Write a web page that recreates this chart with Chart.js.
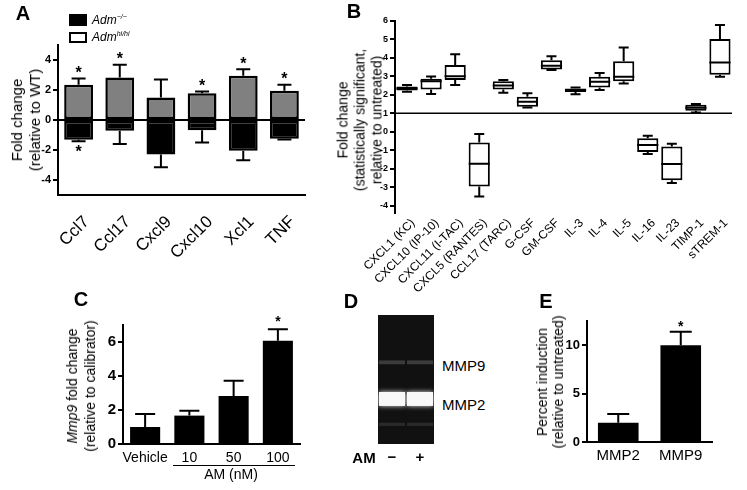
<!DOCTYPE html>
<html>
<head>
<meta charset="utf-8">
<script src="https://cdn.jsdelivr.net/npm/chart.js@4/dist/chart.umd.min.js"></script>
<style>
  body { margin: 0; background: #fff; width: 747px; height: 490px; position: relative; overflow: hidden;
         font-family: "Liberation Sans", Arial, sans-serif; color: #000; }
  canvas { position: absolute; }
  .t { position: absolute; white-space: nowrap; transform: translate(-50%, -50%); }
  .l { position: absolute; white-space: nowrap; transform: translateY(-50%); }
  .rot { position: absolute; white-space: nowrap; text-align: center; transform: translate(-50%, -50%) rotate(-90deg); }
  .panel { font-weight: bold; font-size: 20px; }
  sup { font-size: 7px; vertical-align: 5px; }
</style>
</head>
<body>
<canvas id="chartA" width="320" height="270" style="left:0;top:0"></canvas>
<canvas id="chartB" width="417" height="300" style="left:330px;top:0"></canvas>
<canvas id="chartC" width="310" height="200" style="left:0;top:290px"></canvas>
<canvas id="chartD" width="56" height="150" style="left:378px;top:315px"></canvas>
<canvas id="chartE" width="230" height="190" style="left:500px;top:300px"></canvas>

<!-- panel letters -->
<div class="t panel" style="left:23px;top:13px">A</div>
<div class="t panel" style="left:354px;top:11px">B</div>
<div class="t panel" style="left:81px;top:299px">C</div>
<div class="t panel" style="left:351px;top:301px">D</div>
<div class="t panel" style="left:546px;top:301px">E</div>

<!-- A legend -->
<div style="position:absolute;left:69px;top:14px;width:18px;height:12px;background:#000"></div>
<div style="position:absolute;left:69px;top:32px;width:14px;height:7px;border:2px solid #000;background:#fff"></div>
<div class="l" style="left:92px;top:20px;font-size:12px;font-style:italic">Adm<sup>−/−</sup></div>
<div class="l" style="left:92px;top:37px;font-size:12px;font-style:italic">Adm<sup>hi/hi</sup></div>

<!-- axis titles -->
<div class="rot" style="left:26px;top:120px;font-size:15px;line-height:18px">Fold change<br>(relative to WT)</div>
<div class="rot" style="left:360px;top:120px;font-size:14px;line-height:17px">Fold change<br>(statistically significant,<br>relative to untreated)</div>
<div class="rot" style="left:81px;top:386px;font-size:14px;line-height:18px"><i>Mmp9</i> fold change<br>(relative to calibrator)</div>
<div class="rot" style="left:550px;top:382px;font-size:14px;line-height:16px">Percent induction<br>(relative to untreated)</div>

<!-- C dose bracket -->
<div style="position:absolute;left:173px;top:465px;width:122px;height:1px;background:#000"></div>
<div class="t" style="left:231px;top:474px;font-size:14px">AM (nM)</div>

<!-- D labels -->
<div class="l" style="left:442px;top:365px;font-size:15px">MMP9</div>
<div class="l" style="left:442px;top:404px;font-size:15px">MMP2</div>
<div class="t" style="left:364px;top:457px;font-size:15px;font-weight:bold">AM</div>

<script>
// ---- A: fold change relative to WT
const genes = ["Ccl7", "Ccl17", "Cxcl9", "Cxcl10", "Xcl1", "TNF"];
const admHi = [2.35, 2.83, 1.5, 1.78, 2.95, 1.95];
const admHiErr = [2.76, 3.68, 2.7, 1.9, 3.38, 2.35];
const admHiStar = [1, 1, 0, 1, 1, 1];
const admKo = [-1.32, -0.72, -2.3, -0.68, -2.05, -1.25];
const admKoErr = [-1.42, -1.6, -3.15, -1.5, -2.68, -1.3];
const admKoStar = [1, 0, 0, 0, 0, 0];
const ticksA = [-4, -2, 0, 2, 4];

// ---- B: cytokine box plots
const cytokines = ["CXCL1 (KC)", "CXCL10 (IP-10)", "CXCL11 (I-TAC)", "CXCL5 (RANTES)", "CCL17 (TARC)",
  "G-CSF", "GM-CSF", "IL-3", "IL-4", "IL-5", "IL-16", "IL-23", "TIMP-1", "sTREM-1"];
const boxMin = [2.17, 2.04, 2.53, -3.5, 2.12, 1.32, 3.34, 2.03, 2.26, 2.62, -1.21, -2.78, 1.04, 2.98];
const boxQ1 = [2.24, 2.29, 2.8, -2.96, 2.29, 1.36, 3.37, 2.15, 2.4, 2.74, -1.1, -2.63, 1.14, 3.09];
const boxMed = [2.35, 2.73, 3.01, -1.73, 2.51, 1.63, 3.57, 2.26, 2.71, 2.98, -0.71, -1.75, 1.3, 3.75];
const boxQ3 = [2.45, 2.87, 3.61, -0.58, 2.74, 1.9, 3.88, 2.35, 2.98, 3.82, -0.35, -0.8, 1.47, 5.03];
const boxMax = [2.53, 3.0, 4.2, -0.12, 2.8, 2.08, 4.09, 2.4, 3.19, 4.56, -0.22, -0.65, 1.5, 5.78];
const ticksB = [-4, -3, -2, -1, 0, 1, 2, 3, 4, 5, 6];

// ---- C: Mmp9 fold change
const doses = ["Vehicle", "10", "50", "100"];
const mmp9Fold = [1.0, 1.67, 2.82, 6.08];
const mmp9Err = [1.76, 1.96, 3.72, 6.75];
const mmp9Star = [0, 0, 0, 1];
const ticksC = [0, 1, 2, 3, 4, 5, 6, 7];

// ---- D: zymography lanes (band position, 0 = bottom of gel, 100 = top)
const gelLanes = ["−", "+"];
const mmp2Band = [[29.5, 40.3], [29.5, 40.3]];
const mmp9Band = [[61.8, 64.8], [61.8, 64.8]];
const faintBand = [[14, 16.5], [14, 16.5]];

// ---- E: percent induction
const enzymes = ["MMP2", "MMP9"];
const induction = [2.0, 10.0];
const inductionErr = [2.9, 11.4];
const inductionStar = [0, 1];
const ticksE = [0, 5, 10];

Chart.defaults.font.family = "'Liberation Sans', Arial, sans-serif";
Chart.defaults.color = "#000";
Chart.defaults.animation = false;
Chart.defaults.plugins.legend.display = false;
Chart.defaults.plugins.tooltip.enabled = false;

// error bars + significance stars, drawn from dataset.err / dataset.star
const errorBars = {
  id: "errorBars",
  afterDatasetsDraw(chart, args, opts) {
    const ctx = chart.ctx;
    const ys = chart.scales.y;
    chart.data.datasets.forEach((ds, i) => {
      if (!ds.err) return;
      chart.getDatasetMeta(i).data.forEach((bar, j) => {
        const y0 = ys.getPixelForValue(ds.data[j]);
        const y1 = ys.getPixelForValue(ds.err[j]);
        const up = ds.err[j] >= 0;
        ctx.save();
        ctx.strokeStyle = "#000";
        ctx.lineWidth = opts.width;
        ctx.beginPath();
        ctx.moveTo(bar.x, y0);
        ctx.lineTo(bar.x, y1);
        ctx.moveTo(bar.x - opts.cap / 2, y1);
        ctx.lineTo(bar.x + opts.cap / 2, y1);
        ctx.stroke();
        if (ds.star && ds.star[j]) {
          ctx.fillStyle = "#000";
          ctx.font = "bold " + opts.starSize + "px 'Liberation Sans', Arial";
          ctx.textAlign = "center";
          ctx.textBaseline = "middle";
          const sy = up ? y1 - opts.starGap : y1 + opts.starGap;
          ctx.fillText("*", bar.x, sy + opts.starSize * 0.2);
        }
        ctx.restore();
      });
    });
  },
};

// whiskers + median line for the floating-bar box plots
const boxWhiskers = {
  id: "boxWhiskers",
  afterDatasetsDraw(chart) {
    const ctx = chart.ctx;
    const ys = chart.scales.y;
    chart.getDatasetMeta(0).data.forEach((bar, j) => {
      const half = bar.width / 2;
      const px = (v) => ys.getPixelForValue(v);
      ctx.save();
      ctx.strokeStyle = "#000";
      ctx.lineWidth = 2;
      ctx.beginPath();
      ctx.moveTo(bar.x - half, px(boxMed[j]));
      ctx.lineTo(bar.x + half, px(boxMed[j]));
      ctx.moveTo(bar.x, px(boxQ3[j]));
      ctx.lineTo(bar.x, px(boxMax[j]));
      ctx.moveTo(bar.x - 5, px(boxMax[j]));
      ctx.lineTo(bar.x + 5, px(boxMax[j]));
      ctx.moveTo(bar.x, px(boxQ1[j]));
      ctx.lineTo(bar.x, px(boxMin[j]));
      ctx.moveTo(bar.x - 5, px(boxMin[j]));
      ctx.lineTo(bar.x + 5, px(boxMin[j]));
      ctx.stroke();
      ctx.restore();
    });
  },
};

// horizontal reference line (y = 1 for panel B)
const refLine = {
  id: "refLine",
  afterDatasetsDraw(chart, args, opts) {
    if (opts.value === undefined) return;
    const { ctx, chartArea } = chart;
    const y = chart.scales.y.getPixelForValue(opts.value);
    ctx.save();
    ctx.strokeStyle = "#000";
    ctx.lineWidth = 1.5;
    ctx.beginPath();
    ctx.moveTo(chartArea.left, y);
    ctx.lineTo(chartArea.right, y);
    ctx.stroke();
    ctx.restore();
  },
};

// dark gel background + glowing bands
const gelLook = {
  id: "gelLook",
  beforeDatasetsDraw(chart) {
    const { ctx, chartArea: a } = chart;
    ctx.save();
    ctx.fillStyle = "#111";
    ctx.fillRect(a.left, a.top, a.right - a.left, a.bottom - a.top);
    ctx.restore();
  },
  beforeDatasetDraw(chart, args) {
    const ds = chart.data.datasets[args.index];
    chart.ctx.shadowColor = ds.glow || "transparent";
    chart.ctx.shadowBlur = ds.glow ? 5 : 0;
  },
  afterDatasetDraw(chart) {
    chart.ctx.shadowBlur = 0;
    chart.ctx.shadowColor = "transparent";
  },
};

function fixedTicks(values) {
  return (scale) => { scale.ticks = values.map((v) => ({ value: v })); };
}

function yAxis(min, max, ticks, width, fontSize, labelFn) {
  return {
    min: min, max: max,
    afterBuildTicks: fixedTicks(ticks),
    afterFit: (s) => { s.width = width; },
    border: { display: true, color: "#000", width: 2 },
    grid: { drawOnChartArea: false, color: "#000", tickLength: 5, lineWidth: 2 },
    ticks: { font: { size: fontSize, weight: "bold" }, padding: 2, callback: labelFn || ((v) => v) },
  };
}

// plain category axis along the bottom (C, D, E)
function xAxis(height, font, padding, showLine) {
  return {
    afterFit: (s) => { s.height = height; },
    border: { display: showLine, color: "#000", width: 2 },
    grid: { display: false, drawTicks: false },
    ticks: { font: font, padding: padding, minRotation: 0, maxRotation: 0, autoSkip: false },
  };
}

// A
new Chart(document.getElementById("chartA"), {
  type: "bar",
  data: {
    labels: genes,
    datasets: [
      { data: admHi, err: admHiErr, star: admHiStar, backgroundColor: "#808080" },
      { data: admKo, err: admKoErr, star: admKoStar, backgroundColor: "#000" },
    ],
  },
  options: {
    responsive: false,
    layout: { padding: { top: 45, right: 15, left: 0, bottom: 0 } },
    datasets: { bar: { borderColor: "#000", borderWidth: 2.5, borderSkipped: false, categoryPercentage: 1, barPercentage: 0.7 } },
    scales: {
      x: {
        stacked: true,
        afterFit: (s) => { s.height = 75; },
        border: { display: true, color: "#000", width: 2 },
        grid: { display: false },
        ticks: { font: { size: 17 }, minRotation: 45, maxRotation: 45, autoSkip: false, padding: 9, labelOffset: 8 },
      },
      y: Object.assign(yAxis(-5, 5, ticksA, 58, 11), {
        stacked: true,
        grid: { color: (c) => (c.tick && c.tick.value === 0 ? "#000" : "rgba(0,0,0,0)"), tickColor: "#000", tickLength: 5, lineWidth: 2 },
      }),
    },
    plugins: { errorBars: { width: 2, cap: 14, starSize: 16, starGap: 8 } },
  },
  plugins: [errorBars],
});

// B
new Chart(document.getElementById("chartB"), {
  type: "bar",
  data: {
    labels: cytokines,
    datasets: [{
      data: boxQ1.map((q, i) => [q, boxQ3[i]]),
      backgroundColor: "#fff", borderColor: "#000", borderWidth: 2, borderSkipped: false,
      categoryPercentage: 1, barPercentage: 0.88,
    }],
  },
  options: {
    responsive: false,
    layout: { padding: { top: 21, right: 15, left: 0, bottom: 0 } },
    scales: {
      x: {
        afterFit: (s) => { s.height = 87; },
        border: { display: false },
        grid: { display: false, drawTicks: false },
        ticks: { font: { size: 12 }, minRotation: 45, maxRotation: 45, autoSkip: false, padding: 3, labelOffset: 6 },
      },
      y: yAxis(-4.4, 6, ticksB, 65, 9),
    },
    plugins: { refLine: { value: 1 } },
  },
  plugins: [boxWhiskers, refLine],
});

// C
new Chart(document.getElementById("chartC"), {
  type: "bar",
  data: {
    labels: doses,
    datasets: [{ data: mmp9Fold, err: mmp9Err, star: mmp9Star, backgroundColor: "#000",
      categoryPercentage: 1, barPercentage: 0.68 }],
  },
  options: {
    responsive: false,
    layout: { padding: { top: 35, right: 10, left: 0, bottom: 0 } },
    scales: {
      x: xAxis(46, { size: 14 }, 6, true),
      y: yAxis(0, 7, ticksC, 123, 15, (v) => (v % 2 === 0 ? v : "")),
    },
    plugins: { errorBars: { width: 2, cap: 20, starSize: 14, starGap: 10 } },
  },
  plugins: [errorBars],
});

// D
new Chart(document.getElementById("chartD"), {
  type: "bar",
  data: {
    labels: gelLanes,
    datasets: [
      { data: faintBand, backgroundColor: "rgba(90,90,90,0.35)" },
      { data: mmp9Band, backgroundColor: "rgba(110,110,110,0.45)" },
      { data: mmp2Band, backgroundColor: "#f8f8f8", glow: "rgba(255,255,255,0.9)" },
    ],
  },
  options: {
    responsive: false,
    layout: { padding: 0 },
    datasets: { bar: { grouped: false, categoryPercentage: 1, barPercentage: 0.93, borderWidth: 0 } },
    scales: {
      x: xAxis(21, { size: 15, weight: "bold" }, 5, false),
      y: { display: false, min: 0, max: 100 },
    },
  },
  plugins: [gelLook],
});

// E
new Chart(document.getElementById("chartE"), {
  type: "bar",
  data: {
    labels: enzymes,
    datasets: [{ data: induction, err: inductionErr, star: inductionStar, backgroundColor: "#000",
      categoryPercentage: 1, barPercentage: 0.65 }],
  },
  options: {
    responsive: false,
    layout: { padding: { top: 21, right: 18, left: 0, bottom: 0 } },
    scales: {
      x: xAxis(48, { size: 15 }, 5, true),
      y: yAxis(0, 12.5, ticksE, 87, 13),
    },
    plugins: { errorBars: { width: 2, cap: 22, starSize: 14, starGap: 7 } },
  },
  plugins: [errorBars],
});
</script>
</body>
</html>
